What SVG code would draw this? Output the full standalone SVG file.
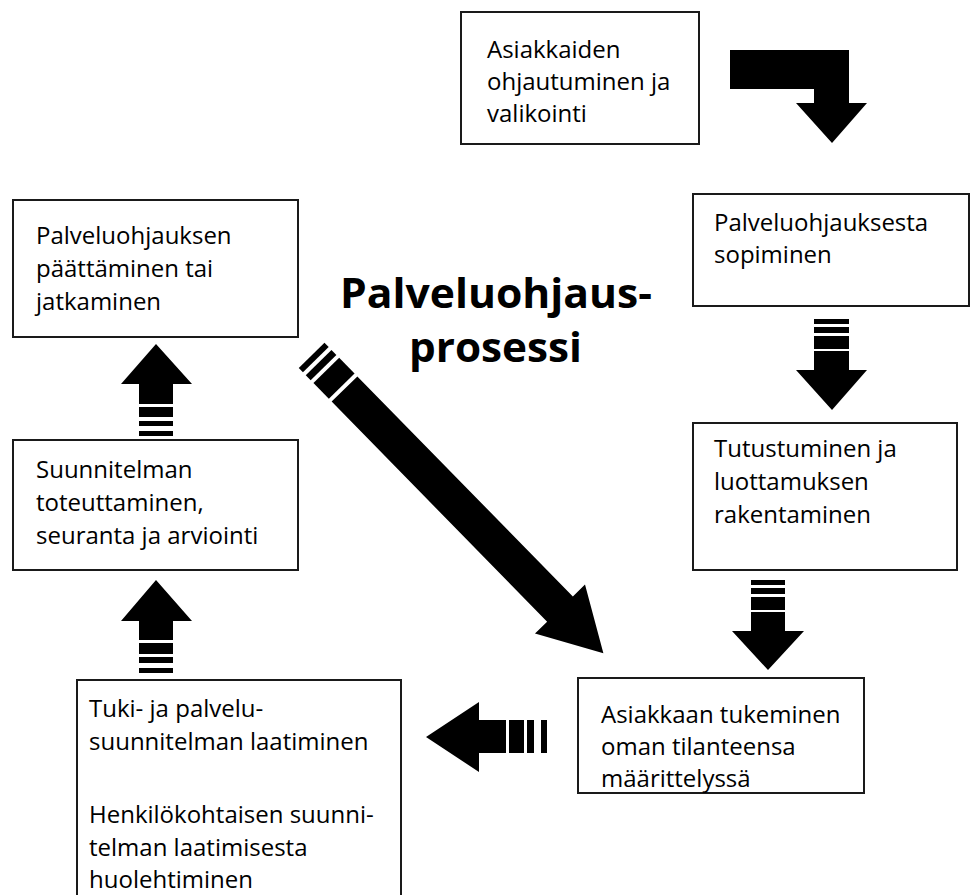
<svg xmlns="http://www.w3.org/2000/svg" width="971" height="895" viewBox="0 0 971 895">
<style>
.box{fill:#fff;stroke:#1a1a1a;stroke-width:2}
.t{font-family:"Open Sans","Liberation Sans",sans-serif;font-size:24px;fill:#000}
.title{font-family:"Open Sans","Liberation Sans",sans-serif;font-size:41px;font-weight:bold;fill:#000;text-anchor:middle}
.arr{fill:#000;stroke:none}
</style>
<rect width="971" height="895" fill="#fff"/>

<g id="n-ohjautuminen">
<rect class="box" x="461" y="12" width="238" height="132"/>
<text class="t" x="487" y="58">Asiakkaiden</text>
<text class="t" x="487" y="90">ohjautuminen ja</text>
<text class="t" x="487" y="122">valikointi</text>
</g>

<g id="n-sopiminen">
<rect class="box" x="693" y="194" width="276" height="112"/>
<text class="t" x="714" y="231">Palveluohjauksesta</text>
<text class="t" x="714" y="263">sopiminen</text>
</g>

<g id="n-tutustuminen">
<rect class="box" x="693" y="423" width="264" height="147"/>
<text class="t" x="714" y="457">Tutustuminen ja</text>
<text class="t" x="714" y="490">luottamuksen</text>
<text class="t" x="714" y="523">rakentaminen</text>
</g>

<g id="n-tukeminen">
<rect class="box" x="578" y="678" width="286" height="115"/>
<text class="t" x="601" y="723">Asiakkaan tukeminen</text>
<text class="t" x="601" y="755">oman tilanteensa</text>
<text class="t" x="601" y="787">määrittelyssä</text>
</g>

<g id="n-suunnitelma">
<rect class="box" x="77" y="680" width="324" height="240"/>
<text class="t" x="89" y="717">Tuki- ja palvelu-</text>
<text class="t" x="89" y="750">suunnitelman laatiminen</text>
<text class="t" x="89" y="823">Henkilökohtaisen suunni-</text>
<text class="t" x="89" y="856">telman laatimisesta</text>
<text class="t" x="89" y="888">huolehtiminen</text>
</g>

<g id="n-toteuttaminen">
<rect class="box" x="13" y="440" width="285" height="130"/>
<text class="t" x="36" y="478">Suunnitelman</text>
<text class="t" x="36" y="511">toteuttaminen,</text>
<text class="t" x="36" y="544">seuranta ja arviointi</text>
</g>

<g id="n-paattaminen">
<rect class="box" x="13" y="200" width="285" height="137"/>
<text class="t" x="36" y="244">Palveluohjauksen</text>
<text class="t" x="36" y="277">päättäminen tai</text>
<text class="t" x="36" y="310">jatkaminen</text>
</g>

<g id="title">
<text class="title" x="496" y="308" textLength="312" lengthAdjust="spacingAndGlyphs">Palveluohjaus-</text>
<text class="title" x="495.5" y="362" textLength="173" lengthAdjust="spacingAndGlyphs">prosessi</text>
</g>

<g id="connectors">
<polygon class="arr" points="730,50 849,50 849,103 867,103 832,143 796,103 814,103 814,89 730,89"/>

<g>
<rect class="arr" x="814" y="319" width="35" height="5"/>
<rect class="arr" x="814" y="327" width="35" height="6"/>
<rect class="arr" x="814" y="336" width="35" height="13"/>
<polygon class="arr" points="814,351 849,351 849,370 867,370 832,410 796,370 814,370"/>
</g>

<g>
<rect class="arr" x="751" y="580" width="34" height="5"/>
<rect class="arr" x="751" y="588" width="34" height="6"/>
<rect class="arr" x="751" y="597" width="34" height="13"/>
<polygon class="arr" points="751,612 785,612 785,631 804,631 768,670 732,631 751,631"/>
</g>

<g>
<rect class="arr" x="541" y="720" width="6" height="33"/>
<rect class="arr" x="527" y="720" width="7" height="33"/>
<rect class="arr" x="509" y="720" width="15" height="33"/>
<polygon class="arr" points="506,720 506,753 479,753 479,772 426,737 479,702 479,720"/>
</g>

<g>
<rect class="arr" x="139" y="668" width="34" height="5"/>
<rect class="arr" x="139" y="657" width="34" height="6"/>
<rect class="arr" x="139" y="643" width="34" height="11"/>
<polygon class="arr" points="139,640 173,640 173,621 192,621 156,580 121,621 139,621"/>
</g>

<g>
<rect class="arr" x="139" y="431" width="34" height="5"/>
<rect class="arr" x="139" y="421" width="34" height="5"/>
<rect class="arr" x="139" y="407" width="34" height="10"/>
<polygon class="arr" points="139,404 173,404 173,384 192,384 156,344 121,384 139,384"/>
</g>

<g transform="translate(344.5,389) rotate(45.6)">
<rect class="arr" x="-47" y="-18" width="6" height="36"/>
<rect class="arr" x="-37" y="-18" width="7" height="36"/>
<rect class="arr" x="-26" y="-18" width="22" height="36"/>
<polygon class="arr" points="0,-18 308,-18 308,-35 370,0 308,35 308,18 0,18"/>
</g>
</g>
</svg>
